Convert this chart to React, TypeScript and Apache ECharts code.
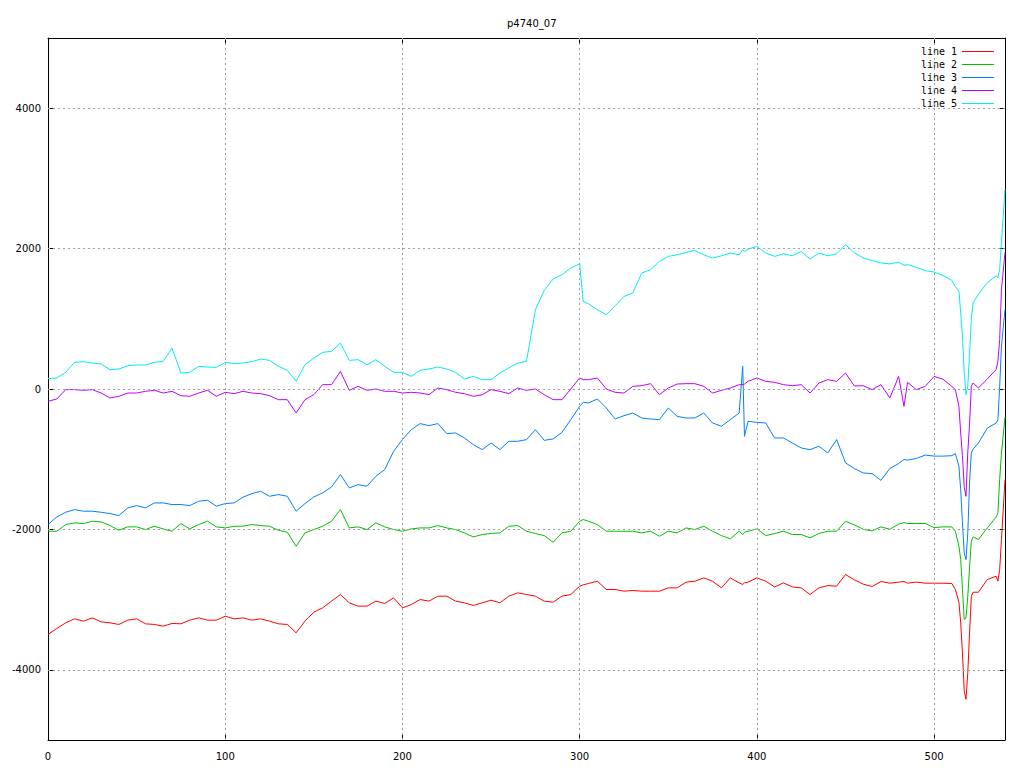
import React, { useEffect, useRef } from "react";
import * as echarts from "echarts";

const title = "p4740_07";
const seriesNames = ["line 1", "line 2", "line 3", "line 4", "line 5"];
const seriesColors = ["#ff0000", "#00c000", "#0080ff", "#c000ff", "#00eeee"];
const xTicks = [0, 100, 200, 300, 400, 500];
const yTicks = [-4000, -2000, 0, 2000, 4000];

const xs = [
  0, 5, 10, 15, 20, 25, 30, 35, 40, 45, 50, 55, 60, 65, 70, 75, 80, 85, 90,
  95, 100, 105, 110, 115, 120, 125, 130, 135, 140, 145, 150, 155, 160, 165, 170, 175, 180,
  185, 190, 195, 200, 205, 210, 215, 220, 225, 230, 235, 240, 245, 250, 255, 260, 265, 270,
  275, 280, 285, 290, 295, 300,
  302,
  305, 310, 315, 320, 325, 330, 335, 340, 345, 350, 355, 360,
  365, 370, 375, 380, 385, 390,
  392, 393,
  395, 400, 405, 410, 415, 420, 425, 430, 435, 440, 445, 450,
  455, 460, 465, 470, 475, 480,
  483,
  485, 490, 495, 500, 505, 510,
  512, 514, 515, 516, 517, 518, 519, 520, 521, 522, 525, 530, 535, 536, 537, 538, 540,
];

const line1 = [
  -3497, -3411, -3331, -3274, -3307, -3260, -3317, -3331, -3354, -3293, -3274, -3345, -3354, -3378, -3340, -3345, -3293, -3260, -3293,
  -3293, -3236, -3274, -3260, -3293, -3274, -3307, -3345, -3354, -3473, -3307, -3179, -3117, -3022, -2928, -3046, -3093, -3093,
  -3022, -3055, -2975, -3117, -3070, -2999, -3022, -2951, -2951, -3022, -3046, -3084, -3046, -3008, -3046, -2951, -2904, -2928,
  -2951, -3022, -3037, -2951, -2928, -2809,
  -2790,
  -2771, -2738, -2856, -2856, -2880, -2870, -2880, -2880, -2880, -2833, -2833, -2752,
  -2738, -2690, -2738, -2833, -2690, -2762,
  -2785, -2760,
  -2752, -2690, -2738, -2819, -2762, -2819, -2833, -2928, -2833, -2800, -2809, -2643,
  -2718, -2780, -2814, -2742, -2766, -2751,
  -2742,
  -2766, -2751, -2766, -2766, -2766, -2771,
  -2857, -3038, -3331, -3759, -4304, -4420, -4043, -3474, -2952, -2895, -2895, -2715, -2667, -2738, -2572, -2145, -1291,
];

const line2 = [
  -2026, -2026, -1931, -1907, -1917, -1884, -1893, -1945, -2012, -1964, -1964, -2002, -1955, -1993, -2026, -1917, -1993, -1931, -1884,
  -1964, -1979, -1955, -1955, -1931, -1945, -1955, -2012, -2040, -2240, -2050, -2002, -1955, -1884, -1718, -1979, -1964, -2002,
  -1907, -1964, -2002, -2026, -1993, -1979, -1979, -1945, -1979, -2002, -2050, -2107, -2073, -2059, -2050, -1955, -1945, -2026,
  -2059, -2088, -2183, -2050, -2026, -1884,
  -1860,
  -1884, -1931, -2026, -2026, -2026, -2026, -2050, -2026, -2097, -2026, -2050, -1979,
  -2002, -1955, -2026, -2088, -2135, -2026,
  -2073, -2040,
  -2026, -1993, -2088, -2059, -2026, -2073, -2073, -2121, -2059, -2026, -2026, -1884,
  -1935, -1998, -2022, -1964, -1998, -1926,
  -1902,
  -1916, -1916, -1916, -1974, -1964, -1965,
  -2027, -2240, -2430, -2857, -3284, -3260, -2952, -2549, -2169, -2107, -2144, -1979, -1823, -1765, -1291, -912, -400,
];

const line3 = [
  -1931, -1822, -1756, -1718, -1741, -1741, -1756, -1775, -1803, -1694, -1661, -1694, -1623, -1623, -1646, -1646, -1661, -1599, -1585,
  -1670, -1632, -1623, -1542, -1490, -1457, -1528, -1504, -1528, -1741, -1632, -1537, -1480, -1395, -1219, -1409, -1362, -1385,
  -1243, -1148, -887, -721, -579, -493, -522, -493, -636, -626, -698, -792, -864, -769, -864, -745, -745, -721,
  -579, -731, -712, -617, -437, -247,
  -190,
  -199, -142, -270, -427, -380, -342, -413, -427, -437, -270, -389, -413,
  -413, -342, -484, -531, -437, -342,
  323, -674,
  -460, -475, -484, -698, -698, -769, -840, -864, -816, -911, -721, -1053,
  -1133, -1196, -1205, -1301, -1133, -1061,
  -1004,
  -1013, -989, -941, -956, -956, -950,
  -921, -1101, -1433, -1908, -2335, -2430, -2050, -1339, -912, -855, -771, -557, -486, -438, 38, 610, 1133,
];

const line4 = [
  -176, -142, -9, -9, -19, -9, -57, -128, -104, -57, -57, -33, -19, -57, -33, -95, -104, -57, -19,
  -104, -47, -66, -33, -57, -66, -95, -152, -152, -342, -152, -81, 62, 62, 251, -19, 38, -19,
  0, -33, -33, -57, -47, -57, -81, 14, -9, -47, -66, -104, -81, -9, -33, -66, 14, -19,
  0, -81, -152, -152, 0, 157,
  133,
  133, 157, 0, -47, -57, 38, 47, 76, -81, 14, 71, 76,
  76, 38, -57, -19, 14, 62,
  62, 70,
  109, 157, 109, 95, 62, 47, 62, -57, 85, 133, 109, 228,
  43, 47, -9, 62, -128, 180,
  -247,
  95, -9, 38, 180, 139, 38,
  -10, -248, -629, -950, -1400, -1530, -900, -500, 38, 86, 14, 143, 276, 395, 705, 1419, 1943,
];

const line5 = [
  150, 157, 237, 380, 389, 370, 356, 275, 285, 332, 342, 342, 380, 394, 580, 228, 237, 323, 313,
  308, 380, 361, 370, 389, 427, 408, 323, 266, 109, 346, 441, 522, 536, 655, 408, 418, 346,
  418, 323, 237, 237, 180, 266, 285, 313, 285, 237, 142, 180, 133, 133, 228, 299, 370, 394,
  1129, 1405, 1566, 1628, 1722, 1784,
  1248,
  1215, 1129, 1058, 1186, 1319, 1367, 1651, 1699, 1817, 1889, 1912, 1945,
  1974, 1912, 1865, 1898, 1936, 1912,
  1983, 1960,
  1993, 2031, 1936, 1889, 1926, 1898, 1960, 1851, 1936, 1898, 1926, 2055,
  1940, 1868, 1830, 1796, 1782, 1806,
  1762,
  1772, 1734, 1686, 1666, 1618, 1548,
  1457, 1395, 1086, 752, 229, -81, 38, 514, 990, 1229, 1348, 1514, 1610, 1586, 1705, 2086, 2848,
];

const allLines = [line1, line2, line3, line4, line5];

const FONT = "DejaVu Sans";
const MONO = "DejaVu Sans Mono";

export default function App() {
  const ref = useRef<HTMLDivElement>(null);

  useEffect(() => {
    if (!ref.current) return;
    const chart = echarts.init(ref.current, null, { renderer: "svg" });

    const axisCommon = {
      type: "value" as const,
      axisLine: { show: true, onZero: false, lineStyle: { color: "#000", width: 1 } },
      splitLine: { show: false },
    };

    const gridLineData = [
      ...yTicks.map((v) => ({ yAxis: v })),
      ...xTicks.filter((v) => v > 0).map((v) => ({ xAxis: v })),
    ];

    const plain = (v: number) => String(v);

    const option: any = {
      animation: false,
      backgroundColor: "#fff",
      color: seriesColors,
      title: {
        text: title,
        left: 502,
        top: 13,
        textStyle: { fontFamily: FONT, fontSize: 10, fontWeight: "normal", color: "#000" },
      },
      legend: {
        data: seriesNames.map((n, i) => ({ name: n, itemStyle: { color: seriesColors[i] } })),
        orient: "vertical",
        right: 24,
        top: 43,
        align: "right",
        icon: "rect",
        itemWidth: 32,
        itemHeight: 1,
        itemGap: 0,
        padding: [2, 6, 4, 3],
        backgroundColor: "#fff",
        selectedMode: false,
        textStyle: { fontFamily: MONO, fontSize: 10, color: "#000", lineHeight: 13 },
      },
      grid: { left: 48, right: 19, top: 38, bottom: 28, containLabel: false },
      xAxis: [
        {
          ...axisCommon,
          min: 0,
          max: 540,
          position: "bottom",
          axisTick: { show: true, inside: true, length: 6, customValues: xTicks, lineStyle: { color: "#000" } },
          axisLabel: { show: true, customValues: xTicks, formatter: plain, color: "#000", fontFamily: FONT, fontSize: 10, margin: 11 },
        },
        {
          ...axisCommon,
          min: 0,
          max: 540,
          position: "top",
          axisTick: { show: true, inside: true, length: 6, customValues: xTicks, lineStyle: { color: "#000" } },
          axisLabel: { show: false },
        },
      ],
      yAxis: [
        {
          ...axisCommon,
          min: -5000,
          max: 5000,
          position: "left",
          axisTick: { show: true, inside: true, length: 6, customValues: yTicks, lineStyle: { color: "#000" } },
          axisLabel: { show: true, customValues: yTicks, formatter: plain, color: "#000", fontFamily: FONT, fontSize: 10, margin: 7 },
        },
        {
          ...axisCommon,
          min: -5000,
          max: 5000,
          position: "right",
          axisTick: { show: true, inside: true, length: 6, customValues: yTicks, lineStyle: { color: "#000" } },
          axisLabel: { show: false },
        },
      ],
      series: [
        {
          name: "grid",
          type: "line",
          data: [],
          z: 1,
          silent: true,
          color: "#a0a0a0",
          markLine: {
            silent: true,
            symbol: ["none", "none"],
            label: { show: false },
            emphasis: { disabled: true },
            lineStyle: { color: "#a0a0a0", type: [2, 3], width: 1 },
            data: gridLineData,
          },
        },
        ...allLines.map((vals, i) => ({
          name: seriesNames[i],
          type: "line",
          data: xs.map((x, j) => [x, vals[j]]),
          showSymbol: false,
          symbol: "none",
          color: seriesColors[i],
          itemStyle: { color: seriesColors[i] },
          lineStyle: { color: seriesColors[i], width: 1 },
          emphasis: { disabled: true },
          z: 2,
        })),
      ],
    };

    chart.setOption(option);
    return () => chart.dispose();
  }, []);

  return (
    <div
      ref={ref}
      style={{ position: "absolute", left: 0, top: 0, width: 1024, height: 768, background: "#fff" }}
    />
  );
}
